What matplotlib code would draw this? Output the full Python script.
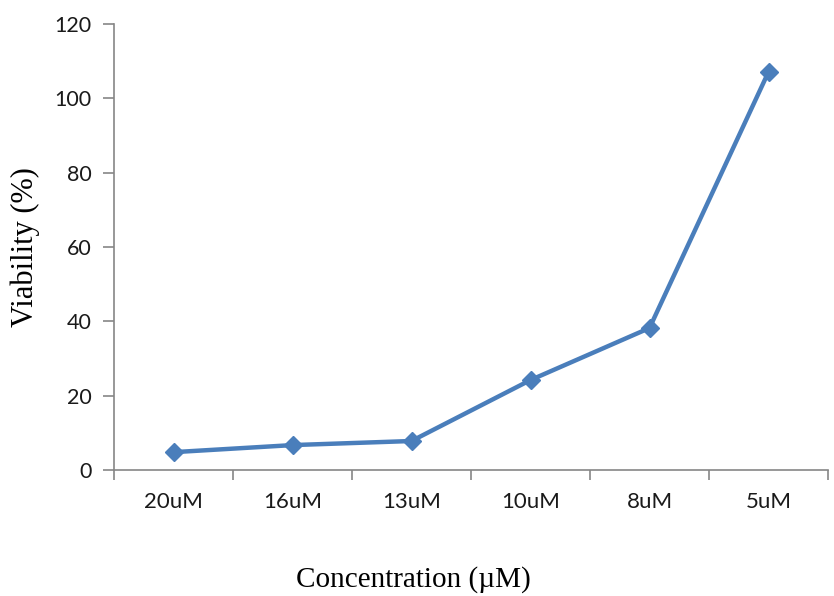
import matplotlib
matplotlib.use("Agg")
import matplotlib.pyplot as plt

categories = ["20uM", "16uM", "13uM", "10uM", "8uM", "5uM"]
viability = [4.8, 6.7, 7.8, 24.2, 38.2, 107.1]
yticks = [0, 20, 40, 60, 80, 100, 120]

fig = plt.figure(figsize=(8.34, 5.96), dpi=100)
ax = fig.add_axes([114/834, 1-470/596, (828-114)/834, (470-24)/596])

x = list(range(len(categories)))
ax.plot(x, viability, color="#4a7ebb", lw=3.2, marker="D", markersize=9.5,
        markerfacecolor="#4a7ebb", markeredgecolor="#4a7ebb", solid_joinstyle="round")

ax.set_xlim(-0.5, len(categories) - 0.5)
ax.set_ylim(0, 120)
ax.set_yticks(yticks)
ax.set_xticks(x)
ax.set_xticklabels(categories)
ax.set_xticks([i - 0.5 for i in range(len(categories) + 1)], minor=True)

for s in ["top", "right"]:
    ax.spines[s].set_visible(False)
for s in ["left", "bottom"]:
    ax.spines[s].set_color("#868686")
    ax.spines[s].set_linewidth(1.2)

ax.tick_params(axis="y", direction="out", length=8, width=1.2, color="#868686",
               labelsize=15.5, pad=8)
ax.tick_params(axis="x", which="major", length=0, labelsize=16, pad=16)
ax.tick_params(axis="x", which="minor", direction="out", length=7, width=1.2, color="#868686")
for lab in ax.get_xticklabels() + ax.get_yticklabels():
    lab.set_fontfamily("Lato")
    lab.set_color("#1a1a1a")

fig.text(25/834, 1-247/596, "Viability (%)", rotation=90, ha="center", va="center",
         fontfamily="Liberation Serif", fontsize=22)
fig.text(413/834, 1-580/596, "Concentration (µM)", ha="center", va="center",
         fontfamily="Liberation Serif", fontsize=21)

fig.savefig("out.png", dpi=100)
